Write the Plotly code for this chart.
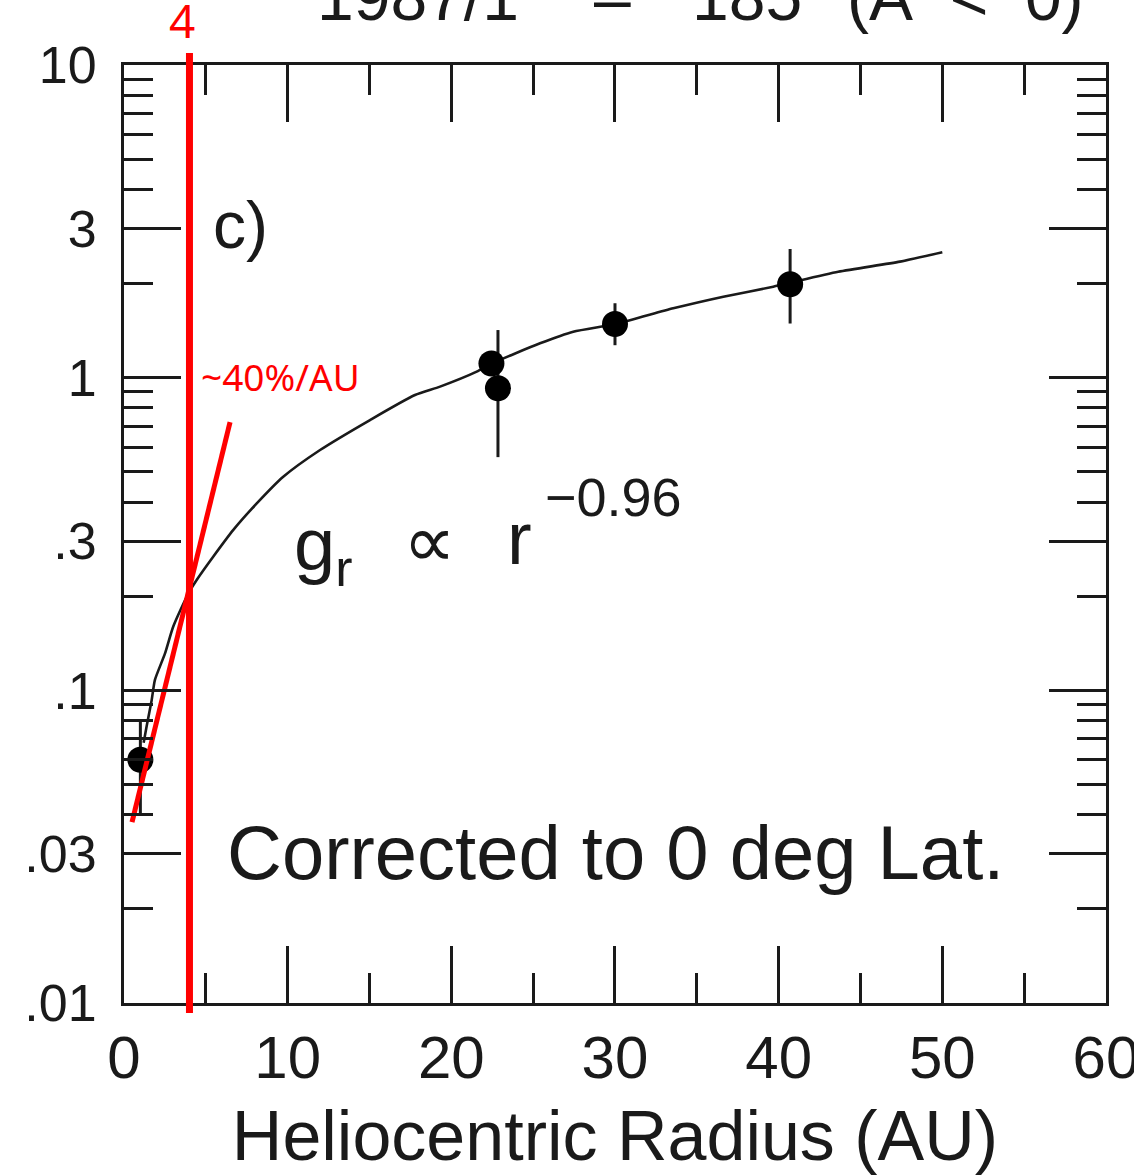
import plotly.graph_objects as go

# ---------------- data ----------------
radius_pts = [1.0, 22.45, 22.85, 30.0, 40.7]
gr_pts = [0.060, 1.11, 0.925, 1.485, 1.99]
gr_err_hi = [0.080, 1.11, 1.42, 1.73, 2.58]
gr_err_lo = [0.040, 1.11, 0.557, 1.27, 1.49]

curve_r = [1.2, 1.38, 1.69, 1.89, 2.50, 3.01, 3.93, 4.44, 5.46, 6.68, 8.11, 9.73,
           11.98, 15.03, 17.78, 19.31, 21.55, 22.47, 25.42, 27.45, 30.04, 33.56,
           36.62, 39.67, 43.64, 47.41, 50.0]
curve_g = [0.068, 0.0766, 0.093, 0.108, 0.131, 0.160, 0.204, 0.2254, 0.268, 0.326,
           0.396, 0.482, 0.587, 0.732, 0.880, 0.936, 1.045, 1.11, 1.288, 1.403,
           1.485, 1.666, 1.815, 1.954, 2.18, 2.35, 2.52]

tangent_r = [0.49, 6.48]
tangent_g = [0.0379, 0.721]
marked_radius = 4

x_major = [0, 10, 20, 30, 40, 50, 60]
x_major_labels = ["0", "10", "20", "30", "40", "50", "60"]
x_minor = [5, 15, 25, 35, 45, 55]
y_major = [0.01, 0.03, 0.1, 0.3, 1, 3, 10]
y_major_labels = [".01", ".03", ".1", ".3", "1", "3", "10"]
y_minor = [m * d for d in (0.01, 0.1, 1) for m in (2, 4, 5, 6, 7, 8, 9)]

# ---------------- layout helpers ----------------
W, H = 1134, 1175
L, R, T, B = 124, 1106, 65, 1003


def px_x(px):
    return (px - L) / (R - L)


def px_y(py):
    return (B - py) / (B - T)


BLACK_FONT = "Liberation Sans, Arial, sans-serif"
NARROW_FONT = "Liberation Sans Narrow, Arial Narrow, Liberation Sans, sans-serif"
RED_FONT = "Noto Sans, Open Sans, sans-serif"
INK = "#1a1a1a"

fig = go.Figure()

fig.add_trace(go.Scatter(
    x=curve_r, y=curve_g, mode="lines", line_shape="spline",
    line=dict(color=INK, width=2.6, smoothing=0.6), showlegend=False, hoverinfo="skip"))

fig.add_trace(go.Scatter(
    x=radius_pts, y=gr_pts, mode="markers",
    marker=dict(color="black", size=26),
    error_y=dict(type="data", symmetric=False,
                 array=[h - v for h, v in zip(gr_err_hi, gr_pts)],
                 arrayminus=[v - l for v, l in zip(gr_pts, gr_err_lo)],
                 color=INK, thickness=3, width=0),
    showlegend=False))

fig.add_trace(go.Scatter(
    x=tangent_r, y=tangent_g, mode="lines",
    line=dict(color="#ff0000", width=5), showlegend=False, hoverinfo="skip"))

fig.add_shape(type="line", xref="x", yref="paper",
              x0=marked_radius, x1=marked_radius, y0=px_y(1013), y1=px_y(53),
              line=dict(color="#ff0000", width=7), layer="above")

annotations = [
    dict(text="1987/1", x=px_x(418), y=px_y(-3), font=dict(size=66, family=BLACK_FONT, color=INK)),
    dict(text="–", x=px_x(612), y=px_y(-1), font=dict(size=66, family=BLACK_FONT, color=INK)),
    dict(text="185", x=px_x(747), y=px_y(-3), font=dict(size=66, family=BLACK_FONT, color=INK)),
    dict(text="(A\u00a0\u00a0<\u00a0\u00a00)", x=px_x(965), y=px_y(-3), font=dict(size=66, family=BLACK_FONT, color=INK)),
    dict(text=str(marked_radius), x=px_x(182), y=px_y(20), font=dict(size=46, family=RED_FONT, color="#ff0000")),
    dict(text="~40%/AU", x=px_x(280), y=px_y(376), font=dict(size=37, family=RED_FONT, color="#ff0000")),
    dict(text="c)", x=px_x(240), y=px_y(225), font=dict(size=66, family=BLACK_FONT, color=INK)),
    dict(text="g<sub>r</sub>", x=px_x(323), y=px_y(550), font=dict(size=74, family=BLACK_FONT, color=INK)),
    dict(text="∝", x=px_x(429), y=px_y(541), font=dict(size=74, family=BLACK_FONT, color=INK)),
    dict(text="r", x=px_x(519), y=px_y(538), font=dict(size=74, family=BLACK_FONT, color=INK)),
    dict(text="−0.96", x=px_x(613), y=px_y(497), font=dict(size=54, family=BLACK_FONT, color=INK)),
    dict(text="Corrected to 0 deg Lat.", x=px_x(615), y=px_y(852), font=dict(size=76, family=BLACK_FONT, color=INK)),
]
for a in annotations:
    fig.add_annotation(xref="paper", yref="paper", showarrow=False,
                       xanchor="center", yanchor="middle", **a)

fig.update_xaxes(
    range=[0, 60.001], showgrid=False, zeroline=False, automargin=False,
    showline=True, linecolor=INK, linewidth=3, mirror="allticks",
    tickmode="array", tickvals=x_major, ticktext=x_major_labels,
    ticks="inside", ticklen=57, tickwidth=3, tickcolor=INK,
    minor=dict(tickmode="array", tickvals=x_minor, ticks="inside",
               ticklen=30, tickwidth=3, tickcolor=INK, showgrid=False),
    tickfont=dict(size=60, family=NARROW_FONT, color=INK),
    ticklabelstandoff=0, ticklabeloverflow="allow",
    title=dict(text="Heliocentric Radius (AU)", standoff=28,
               font=dict(size=70, family=BLACK_FONT, color=INK)),
)
fig.update_yaxes(
    type="log", range=[-2, 1], showgrid=False, zeroline=False, automargin=False,
    showline=True, linecolor=INK, linewidth=3, mirror="allticks",
    tickmode="array", tickvals=y_major, ticktext=y_major_labels,
    ticks="inside", ticklen=57, tickwidth=3, tickcolor=INK,
    minor=dict(tickmode="array", tickvals=y_minor, ticks="inside",
               ticklen=29, tickwidth=3, tickcolor=INK, showgrid=False),
    tickfont=dict(size=52, family=BLACK_FONT, color=INK),
    ticklabelstandoff=14,
)

fig.update_layout(
    width=W, height=H, autosize=False,
    margin=dict(l=L, r=W - R, t=T, b=H - B, pad=0),
    paper_bgcolor="white", plot_bgcolor="white",
    showlegend=False,
)

fig.write_html("out.html", include_plotlyjs=True, config={"displayModeBar": False})
